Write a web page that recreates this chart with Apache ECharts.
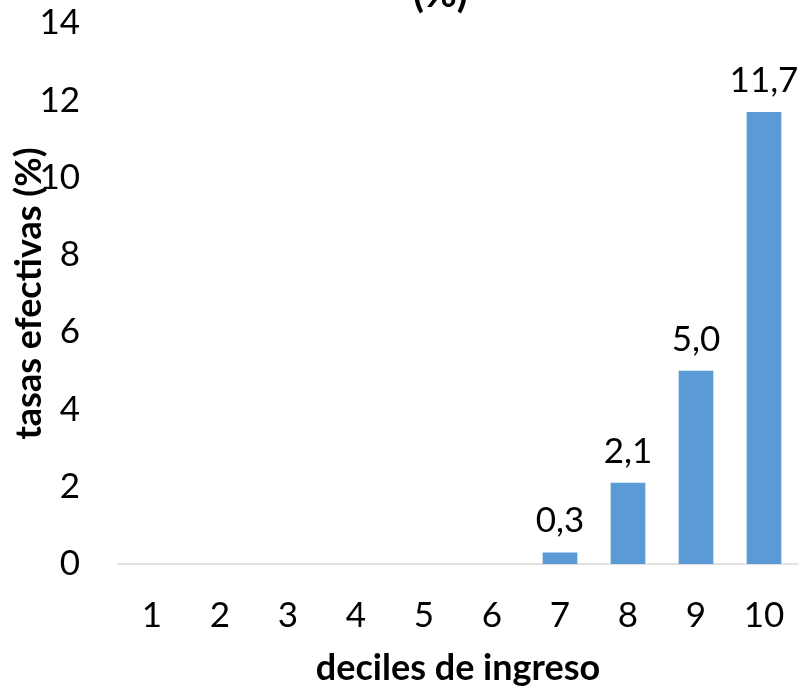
<!DOCTYPE html>
<html><head><meta charset="utf-8">
<script src="https://cdn.jsdelivr.net/npm/echarts@6/dist/echarts.min.js"></script>
<style>html,body{margin:0;padding:0;background:#fff}#c{width:800px;height:692px}</style>
</head><body><div id="c"></div>
<script>
const categories = ['1','2','3','4','5','6','7','8','9','10'];
const values = [0, 0, 0, 0, 0, 0, 0.3, 2.1, 5.0, 11.7];
const yTicks = [0, 2, 4, 6, 8, 10, 12, 14];
const titleText = '(%)';
const yName = 'tasas efectivas (%)';
const xName = 'deciles de ingreso';

const FONT = 'Lato, "Open Sans", sans-serif';
const chart = echarts.init(document.getElementById('c'), null, {renderer:'canvas'});
chart.setOption({
  animation: false,
  title: {text: titleText, left: 408, top: -31, textStyle: {fontFamily: FONT, fontSize: 40, fontWeight: 'bold', color: '#000'}},
  grid: {left: 118, right: 2, top: 23, bottom: 128, containLabel: false, outerBoundsMode: 'none'},
  xAxis: {
    type: 'category', data: categories,
    name: xName, nameLocation: 'middle', nameGap: 86, nameMoveOverlap: false,
    nameTextStyle: {fontFamily: FONT, fontSize: 36, fontWeight: 'bold', color: '#000'},
    axisLine: {lineStyle: {color: '#d9d9d9', width: 1.5}},
    axisTick: {show: false},
    axisLabel: {fontFamily: FONT, fontSize: 35, color: '#000', margin: 34}
  },
  yAxis: {
    type: 'value', min: yTicks[0], max: yTicks[yTicks.length-1], interval: 2,
    name: yName, nameLocation: 'middle', nameGap: 71, nameRotate: 90, nameMoveOverlap: false,
    nameTextStyle: {fontFamily: FONT, fontSize: 36, fontWeight: 'bold', color: '#000'},
    axisLine: {show: false}, axisTick: {show: false},
    splitLine: {show: false},
    axisLabel: {fontFamily: FONT, fontSize: 35, color: '#000', margin: 38}
  },
  series: [{
    type: 'bar', data: values, barWidth: '51%',
    itemStyle: {color: '#5b9bd5'},
    label: {
      show: true, position: 'top', distance: 14,
      fontFamily: FONT, fontSize: 35, color: '#000',
      formatter: p => p.value > 0 ? p.value.toFixed(1).replace('.', ',') : ''
    }
  }]
});
</script></body></html>
